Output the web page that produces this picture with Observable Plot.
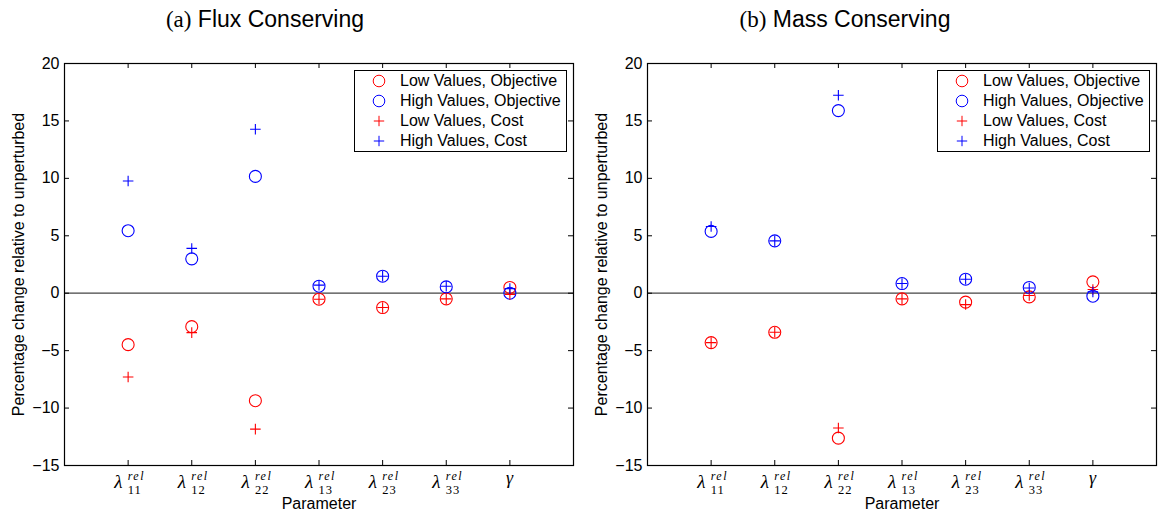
<!DOCTYPE html>
<html><head><meta charset="utf-8">
<script src="https://cdn.jsdelivr.net/npm/d3@7"></script>
<script src="https://cdn.jsdelivr.net/npm/@observablehq/plot@0.6"></script>
<style>
body{margin:0;background:#fff;font-family:"Liberation Sans",Arial,sans-serif;color:#000;}
#wrap{position:relative;width:1161px;height:513px;overflow:hidden;}
.panel{position:absolute;top:0;height:513px;}
.title{height:44px;box-sizing:border-box;padding-top:8px;width:530px;text-align:center;font-size:23px;line-height:22px;white-space:nowrap;}
.title .lab{font-family:"Liberation Serif",serif;}
.legend{position:absolute;top:70px;width:211px;height:80px;border:1px solid #000;background:#fff;font-size:16px;}
.row{height:20px;line-height:20px;position:relative;white-space:nowrap;}
.row svg{position:absolute;left:17px;top:3px;}
.row span{position:absolute;left:45px;top:0;}
svg.plot{display:block;}
</style>
</head><body>
<div id="wrap"></div>
<script>
// ---- data ----
const params = ["λ11", "λ12", "λ22", "λ13", "λ23", "λ33", "γ"];
const xTicks = [1, 2, 3, 4, 5, 6, 7];
const yTicks = [-15, -10, -5, 0, 5, 10, 15, 20];
const seriesNames = ["Low Values, Objective", "High Values, Objective", "Low Values, Cost", "High Values, Cost"];
const seriesColors = ["#ff0000", "#0000ff", "#ff0000", "#0000ff"];
const seriesSymbols = ["circle", "circle", "plus", "plus"];

// (a) Flux Conserving
const fluxLowObj   = [-4.48, -2.91, -9.36, -0.52, -1.25, -0.49, 0.50];
const fluxHighObj  = [5.44, 2.99, 10.17, 0.61, 1.48, 0.55, 0.00];
const fluxLowCost  = [-7.30, -3.43, -11.83, -0.52, -1.25, -0.49, -0.10];
const fluxHighCost = [9.77, 3.90, 14.27, 0.70, 1.48, 0.60, 0.40];

// (b) Mass Conserving
const massLowObj   = [-4.30, -3.40, -12.62, -0.49, -0.78, -0.32, 0.99];
const massHighObj  = [5.38, 4.56, 15.90, 0.84, 1.22, 0.50, -0.26];
const massLowCost  = [-4.30, -3.40, -11.74, -0.49, -0.99, -0.20, 0.32];
const massHighCost = [5.81, 4.56, 17.24, 0.84, 1.22, 0.45, 0.12];

const H = 469, MT = 19, MB = 48;

function makePanel(left, width, mL, mR, letter, name, series) {
  const panel = document.createElement("div");
  panel.className = "panel";
  panel.style.left = left + "px";
  panel.style.width = width + "px";
  const title = document.createElement("div");
  title.className = "title";
  title.innerHTML = `<span class="lab">(${letter})</span> ${name}`;
  panel.appendChild(title);

  const plotW = width - mL - mR;
  const plotH = H - MT - MB;
  const dotMarks = series.map((vals, s) => {
    const data = vals.map((v, i) => ({x: i + 1, y: v}));
    return Plot.dot(data, {
      x: "x", y: "y", stroke: seriesColors[s], fill: "none",
      symbol: seriesSymbols[s], r: seriesSymbols[s] === "circle" ? 6 : 3.5, strokeWidth: 1.1
    });
  });

  const svg = Plot.plot({
    width, height: H, marginLeft: mL, marginRight: mR, marginTop: MT, marginBottom: MB,
    style: {fontFamily: "Liberation Sans, Arial, sans-serif", fontSize: "16px", color: "#000", background: "#fff"},
    x: {domain: [0, 8]},
    y: {domain: [-15, 20]},
    marks: [
      Plot.ruleY([0], {stroke: "#444", strokeWidth: 1.2}),
      Plot.axisX(xTicks, {tickSize: 0, tickPadding: 3, tickFormat: d => params[d - 1],
        label: "Parameter", labelAnchor: "center", labelOffset: 43, labelArrow: "none"}),
      Plot.axisY(yTicks, {tickSize: 0, tickPadding: 5, tickFormat: d => d < 0 ? "\u2212" + Math.abs(d) : String(d),
        label: "Percentage change relative to unperturbed", labelAnchor: "center", labelOffset: 52, labelArrow: "none"}),
      Plot.tickX(xTicks, {x: d => d, insetTop: plotH - 5, stroke: "#000"}),
      Plot.tickX(xTicks, {x: d => d, insetBottom: plotH - 5, stroke: "#000"}),
      Plot.tickY(yTicks, {y: d => d, insetRight: plotW - 5, stroke: "#000"}),
      Plot.tickY(yTicks, {y: d => d, insetLeft: plotW - 5, stroke: "#000"}),
      ...dotMarks,
      Plot.frame({stroke: "#000", strokeWidth: 1.2})
    ]
  });
  svg.classList.add("plot");

  // rich tick labels: λ with superscript "rel" and subscript indices
  svg.querySelectorAll('g[aria-label="x-axis tick label"] text').forEach(t => {
    const s = t.textContent;
    t.removeAttribute("y"); t.removeAttribute("dy");
    t.setAttribute("text-anchor", "start");
    while (t.firstChild) t.removeChild(t.firstChild);
    const ns = "http://www.w3.org/2000/svg";
    const add = (txt, attrs) => {
      const ts = document.createElementNS(ns, "tspan");
      ts.textContent = txt;
      for (const k in attrs) ts.setAttribute(k, attrs[k]);
      t.appendChild(ts);
    };
    if (s.startsWith("λ")) {
      add("λ", {x: -14, y: 19, "font-family": "Liberation Serif, serif", "font-style": "italic", "font-size": 19});
      add("rel", {x: -0.5, y: 11, "font-family": "Liberation Serif, serif", "font-style": "italic", "font-size": 12, "letter-spacing": 1.5});
      add(s.slice(1), {x: -0.5, y: 25, "font-family": "Liberation Serif, serif", "font-size": 12.5, "letter-spacing": 1});
    } else {
      add(s, {x: -4, y: 15, "font-family": "Liberation Serif, serif", "font-style": "italic", "font-size": 18});
    }
  });
  panel.appendChild(svg);

  // legend (inside the axes, top right)
  const leg = document.createElement("div");
  leg.className = "legend";
  leg.style.left = (width - mR - 6 - 213) + "px";
  seriesNames.forEach((nm, s) => {
    const row = document.createElement("div");
    row.className = "row";
    const icon = seriesSymbols[s] === "circle"
      ? `<circle cx="7" cy="7" r="5.8" fill="none" stroke="${seriesColors[s]}"/>`
      : `<path d="M1.8,7H12.2M7,1.8V12.2" stroke="${seriesColors[s]}"/>`;
    row.innerHTML = `<svg width="14" height="14">${icon}</svg><span>${nm}</span>`;
    leg.appendChild(row);
  });
  panel.appendChild(leg);
  document.getElementById("wrap").appendChild(panel);
}

makePanel(0, 580, 64, 7, "a", "Flux Conserving", [fluxLowObj, fluxHighObj, fluxLowCost, fluxHighCost]);
makePanel(580, 581, 67, 5, "b", "Mass Conserving", [massLowObj, massHighObj, massLowCost, massHighCost]);
</script>
</body></html>
